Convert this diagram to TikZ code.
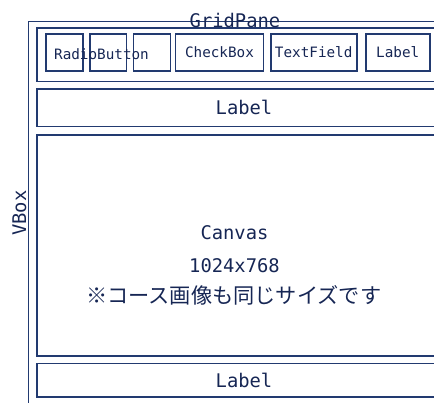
\documentclass[tikz,border=0pt]{standalone}
\usepackage{fontspec}
\setmonofont{DejaVu Sans Mono}
\newfontfamily\cjk{Noto Sans CJK JP}
\usepackage{tikz}
\usetikzlibrary{positioning}
\definecolor{paneline}{RGB}{34,58,112}
\definecolor{panetext}{RGB}{22,38,84}

\begin{document}
\begin{tikzpicture}[x=1pt, y=-1pt]
				\tikzstyle{panebox}=[draw=paneline, line width=1.6pt, inner sep=0pt, outer sep=0pt, fill=none, text=panetext, font=\ttfamily\fontsize{18.8}{20}\selectfont]
				\tikzstyle{ctrlbox}=[panebox, minimum height=37pt, font=\ttfamily\fontsize{14.3}{16}\selectfont]
				\tikzstyle{panetxt}=[inner sep=0pt, text=panetext, font=\ttfamily\fontsize{18.8}{20}\selectfont]
				
				\clip (0,0) rectangle (434,403);
				
				\node (vbox) at (236.75,218.25) [panebox, minimum width=416.5pt, minimum height=393.5pt] {};
				\node (hbox) at (244,55) [panebox, minimum width=414.6pt, minimum height=53.4pt] {};
				
				\node (rb1) at (64.35,52.5) [ctrlbox, minimum width=36.7pt] {};
				\node (rb2) at (108,52.5) [ctrlbox, minimum width=36.6pt] {};
				\node (rb3) at (151.8,52.5) [ctrlbox, minimum width=37pt] {};
				\node (chk) at (219.5,52.5) [ctrlbox, minimum width=88pt] {CheckBox};
				\node (tf) at (313.7,52.5) [ctrlbox, minimum width=86pt] {TextField};
				\node (lbl) at (397.7,52.5) [ctrlbox, minimum width=64pt] {Label};
				\node (rbT) at (101.5,54) [panetxt, font=\ttfamily\fontsize{14.3}{16}\selectfont] {RadioButton};
				
				\node (lbl1) at (244,107.85) [panebox, minimum width=414.6pt, minimum height=37.7pt] {Label};
				\node (canvas) at (244,245.5) [panebox, minimum width=414.6pt, minimum height=221pt] {};
				\node (lbl2) at (244,380.4) [panebox, minimum width=414.6pt, minimum height=33.8pt] {Label};
				
				\node (cv1) at (234.5,233) [panetxt] {Canvas};
				\node (cv2) at (234.5,265.5) [panetxt] {1024x768};
				\node (cv3) at (233.7,295.5) [panetxt, font=\cjk\fontsize{21.2}{22}\selectfont] {※コース画像も同じサイズです};
				
				\node (gp) at (235,20.5) [panetxt] {GridPane};
				\node (vb) at (19.3,213) [panetxt, rotate=90] {VBox};
				
				\end{tikzpicture}
\end{document}
